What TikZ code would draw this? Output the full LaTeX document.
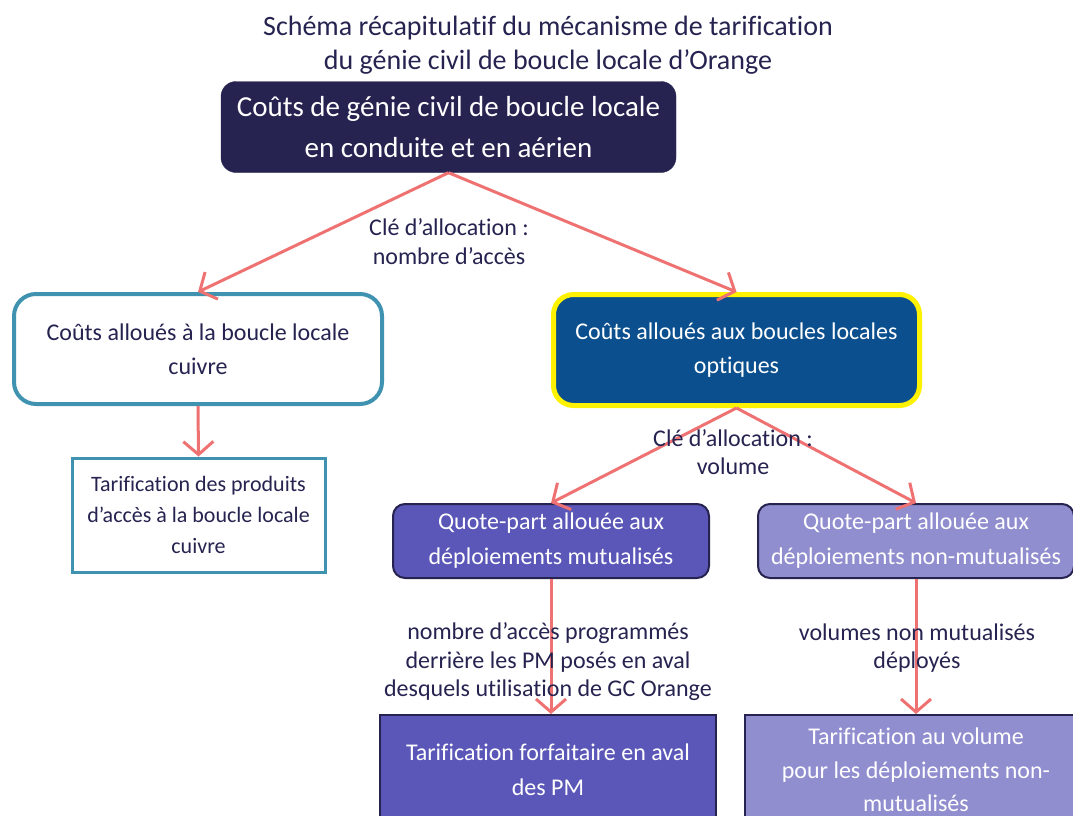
\documentclass[tikz,border=0pt]{standalone}
\usepackage{fontspec}
\setmainfont{Carlito}[Ligatures=NoCommon]
\usetikzlibrary{arrows.meta}
\definecolor{navy}{HTML}{262350}
\definecolor{tealline}{HTML}{3F93B0}
\definecolor{optblue}{HTML}{0B4F8E}
\definecolor{mutpurple}{HTML}{5B57B8}
\definecolor{nmpurple}{HTML}{918ED0}
\definecolor{salmon}{HTML}{EF7272}
\begin{document}
\begin{tikzpicture}[x=1pt, y=-1pt,
  box/.style={align=center, inner sep=0pt},
  flow/.style={salmon, line width=3pt, -{Straight Barb[length=13pt, width=30pt, line width=3pt]}},
  lbl/.style={navy, align=center, font=\fontsize{24}{28.5}\selectfont}]
  \useasboundingbox (0,0) rectangle (1073,816);
  \clip (0,0) rectangle (1073,816);
  % title
  \node[lbl, font=\fontsize{28}{34}\selectfont] (title) at (548,45) {Schéma récapitulatif du mécanisme de tarification\\du génie civil de boucle locale d’Orange};
  % boxes
  \node[box, fill=navy, draw=navy, rounded corners=15pt, minimum width=455pt, minimum height=91pt,
    text=white, font=\fontsize{29}{41}\selectfont] (gc) at (448.5,127) {Coûts de génie civil de boucle locale\\en conduite et en aérien};
  \node[box, draw=tealline, line width=4pt, fill=white, rounded corners=22pt, minimum width=368pt, minimum height=110pt,
    text=navy, font=\fontsize{24}{34}\selectfont] (cuivre) at (198,349) {Coûts alloués à la boucle locale\\cuivre};
  \node[box, draw=yellow, fill=optblue, line width=5pt, rounded corners=20pt, minimum width=366pt, minimum height=111pt,
    text=white, font=\fontsize{24}{34}\selectfont] (optique) at (736.5,350) {Coûts alloués aux boucles locales\\optiques};
  \node[box, draw=tealline, line width=3pt, fill=white, minimum width=253pt, minimum height=114pt,
    text=navy, font=\fontsize{22}{31}\selectfont] (tarifcu) at (198.5,515) {Tarification des produits\\d’accès à la boucle locale\\cuivre};
  \node[box, draw=navy, line width=2pt, fill=mutpurple, rounded corners=12pt, minimum width=316pt, minimum height=74pt,
    text=white, font=\fontsize{24}{35}\selectfont] (mut) at (551,541) {Quote-part allouée aux\\déploiements mutualisés};
  \node[box, draw=navy, line width=2pt, fill=nmpurple, rounded corners=12pt, minimum width=316pt, minimum height=74pt,
    text=white, font=\fontsize{24}{35}\selectfont] (nonmut) at (916,541) {Quote-part allouée aux\\déploiements non-mutualisés};
  \node[box, draw=navy, line width=2pt, fill=mutpurple, minimum width=336pt, minimum height=110pt,
    text=white, font=\fontsize{24}{35}\selectfont] (forfait) at (548,770) {Tarification forfaitaire en aval\\des PM};
  \node[box, draw=navy, line width=2pt, fill=nmpurple, minimum width=342pt, minimum height=110pt,
    text=white, font=\fontsize{24}{33.5}\selectfont] (volume) at (916,770) {Tarification au volume\\pour les déploiements non-\\mutualisés};
  % arrows
  \draw[flow] (gc.south) -- (cuivre.north);
  \draw[flow] (gc.south) -- (optique.north);
  \draw[flow] (cuivre.south) -- (tarifcu.north);
  \draw[flow] (optique.south) -- (mut.north);
  \draw[flow] (optique.south) -- (nonmut.north);
  \draw[flow] (mut.south) -- (mut.south |- forfait.north);
  \draw[flow] (nonmut.south) -- (nonmut.south |- volume.north);
  % labels
  \node[lbl] (cleacces) at (449,241.5) {Clé d’allocation :\\nombre d’accès};
  \node[lbl] (clevol) at (733,452) {Clé d’allocation :\\volume};
  \node[lbl] (cleprog) at (548,662) {nombre d’accès programmés\\derrière les PM posés en aval\\desquels utilisation de GC Orange};
  \node[lbl] (clenm) at (917,648) {volumes non mutualisés\\déployés};
\end{tikzpicture}
\end{document}
